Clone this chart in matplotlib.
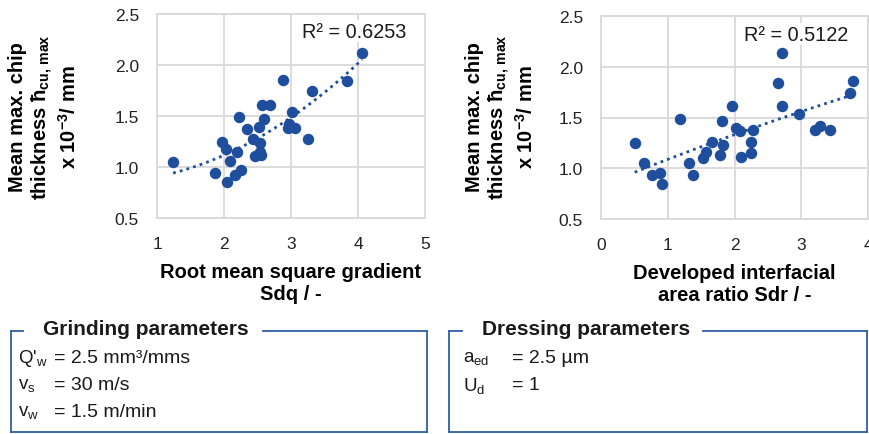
import numpy as np
import matplotlib
matplotlib.use("Agg")
import matplotlib.pyplot as plt
from matplotlib.lines import Line2D

plt.rcParams['font.family'] = ['Liberation Sans', 'DejaVu Sans']
plt.rcParams['mathtext.fontset'] = 'custom'
plt.rcParams['mathtext.rm'] = 'Liberation Sans'
plt.rcParams['mathtext.it'] = 'Liberation Sans:italic'
plt.rcParams['mathtext.bf'] = 'Liberation Sans:bold'

# Sdq vs chip thickness
sdq = [1.24, 4.06, 3.83, 2.88, 3.32, 2.56, 2.69, 3.02, 2.22, 2.60, 2.35, 2.52, 2.97, 2.96, 3.06,
       3.26, 1.97, 2.43, 2.54, 2.03, 2.19, 2.54, 2.47, 2.55, 2.09, 1.86, 2.26, 2.16, 2.04]
h_sdq = [1.05, 2.12, 1.84, 1.85, 1.745, 1.61, 1.61, 1.54, 1.49, 1.47, 1.37, 1.39, 1.42, 1.38, 1.38,
         1.275, 1.245, 1.275, 1.235, 1.18, 1.15, 1.15, 1.11, 1.12, 1.06, 0.94, 0.97, 0.92, 0.85]

# Sdr vs chip thickness
sdr = [0.505, 0.64, 0.77, 0.88, 0.915, 1.19, 1.32, 1.385, 1.53, 1.58, 1.67, 1.79, 1.815, 1.83, 1.965,
       2.02, 2.075, 2.09, 2.24, 2.24, 2.28, 2.645, 2.705, 2.705, 2.965, 3.2, 3.28, 3.43, 3.73, 3.775]
h_sdr = [1.25, 1.05, 0.93, 0.95, 0.84, 1.49, 1.05, 0.93, 1.105, 1.16, 1.26, 1.135, 1.47, 1.23, 1.615,
         1.40, 1.365, 1.11, 1.26, 1.15, 1.375, 1.84, 2.14, 1.615, 1.53, 1.375, 1.42, 1.375, 1.74, 1.855]

r2_sdq = "R² = 0.6253"
r2_sdr = "R² = 0.5122"

blue = '#1f4e9c'
grid_c = '#d9d9d9'
box_c = '#2e5fa0'
txt_c = '#1a1a1a'

W, H = 869, 435
fig = plt.figure(figsize=(W / 100, H / 100), dpi=100)


def px(l, t, r, b):
    return [l / W, 1 - b / H, (r - l) / W, (b - t) / H]


def fx(x):
    return x / W


def fy(y):
    return 1 - y / H


def poly_trend(x, y, deg=2):
    x = np.asarray(x)
    coef = np.polyfit(x, y, deg)
    xs = np.linspace(x.min(), x.max(), 100)
    return xs, np.polyval(coef, xs)


ylab = ("Mean max. chip\nthickness ħ$_{\\mathregular{cu,\\,max}}$\n"
        "x 10$^{\\mathregular{-3}}$/ mm")


def panel(rect, x, y, xlim, r2, r2pos, xlab, ylab_x):
    ax = fig.add_axes(rect)
    ax.scatter(x, y, s=68, color=blue, zorder=3, linewidths=0)
    xs, ys = poly_trend(x, y)
    ax.plot(xs, ys, color=blue, lw=2.0, ls=(0, (1, 1.5)), zorder=2)
    ax.set_xlim(*xlim)
    ax.set_ylim(0.5, 2.5)
    ax.set_xticks(np.arange(xlim[0], xlim[1] + 1))
    ax.set_yticks([0.5, 1.0, 1.5, 2.0, 2.5])
    ax.set_yticklabels(["0.5", "1.0", "1.5", "2.0", "2.5"])
    ax.grid(True, color=grid_c, lw=1.3)
    ax.set_axisbelow(True)
    for s in ax.spines.values():
        s.set_color(grid_c)
        s.set_linewidth(1.3)
    ax.tick_params(length=0, labelsize=12.5, colors='#222222', pad=13)
    ax.text(r2pos[0], r2pos[1], r2, transform=ax.transAxes, fontsize=14.3,
            ha='center', va='center', color=txt_c,
            bbox=dict(facecolor='white', edgecolor='none', pad=1))
    ax.set_xlabel(xlab, fontsize=14.5, fontweight='bold', labelpad=8, linespacing=1.2)
    fig.text(fx(ylab_x), fy(117), ylab, rotation=90, ha='center', va='center',
             fontsize=14.5, fontweight='bold', linespacing=1.15, multialignment='center')
    return ax


panel(px(157, 15, 425, 219), sdq, h_sdq, (1, 5), r2_sdq, (0.735, 0.915),
      "Root mean square gradient\nSdq / -", 44)
panel(px(601, 17, 868, 220), sdr, h_sdr, (0, 4), r2_sdr, (0.73, 0.91),
      "Developed interfacial\narea ratio Sdr / -", 501)


def frame(l, t, r, b, title_l, title_r, title):
    segs = [((l, title_l - 20), (t, t)), ((title_r + 15, r), (t, t)),
            ((l, l), (t, b)), ((r, r), (t, b)), ((l, r), (b, b))]
    for xs, ys in segs:
        fig.add_artist(Line2D([fx(v) for v in xs], [fy(v) for v in ys],
                              color=box_c, lw=1.3))
    fig.text(fx(title_l), fy(t - 2), title, fontsize=15, fontweight='bold',
             ha='left', va='center', color=txt_c)


frame(11, 332, 427, 433, 43, 248, "Grinding parameters")
frame(449, 332, 867, 433, 482, 688, "Dressing parameters")

grind_sym = ["Q'$_{\\mathregular{w}}$", "v$_{\\mathregular{s}}$", "v$_{\\mathregular{w}}$"]
grind_val = ["= 2.5 mm³/mms", "= 30 m/s", "= 1.5 m/min"]
dress_sym = ["a$_{\\mathregular{ed}}$", "U$_{\\mathregular{d}}$"]
dress_val = ["= 2.5 µm", "= 1"]

for i, (s, v) in enumerate(zip(grind_sym, grind_val)):
    yy = fy(359 + i * 27)
    fig.text(fx(18), yy, s, fontsize=13.5, ha='left', va='center', color=txt_c)
    fig.text(fx(54), yy, v, fontsize=14, ha='left', va='center', color=txt_c)
for i, (s, v) in enumerate(zip(dress_sym, dress_val)):
    yy = fy(359 + i * 27)
    fig.text(fx(463), yy, s, fontsize=13.5, ha='left', va='center', color=txt_c)
    fig.text(fx(512), yy, v, fontsize=14, ha='left', va='center', color=txt_c)

fig.savefig("out.png", dpi=100, facecolor='white')
